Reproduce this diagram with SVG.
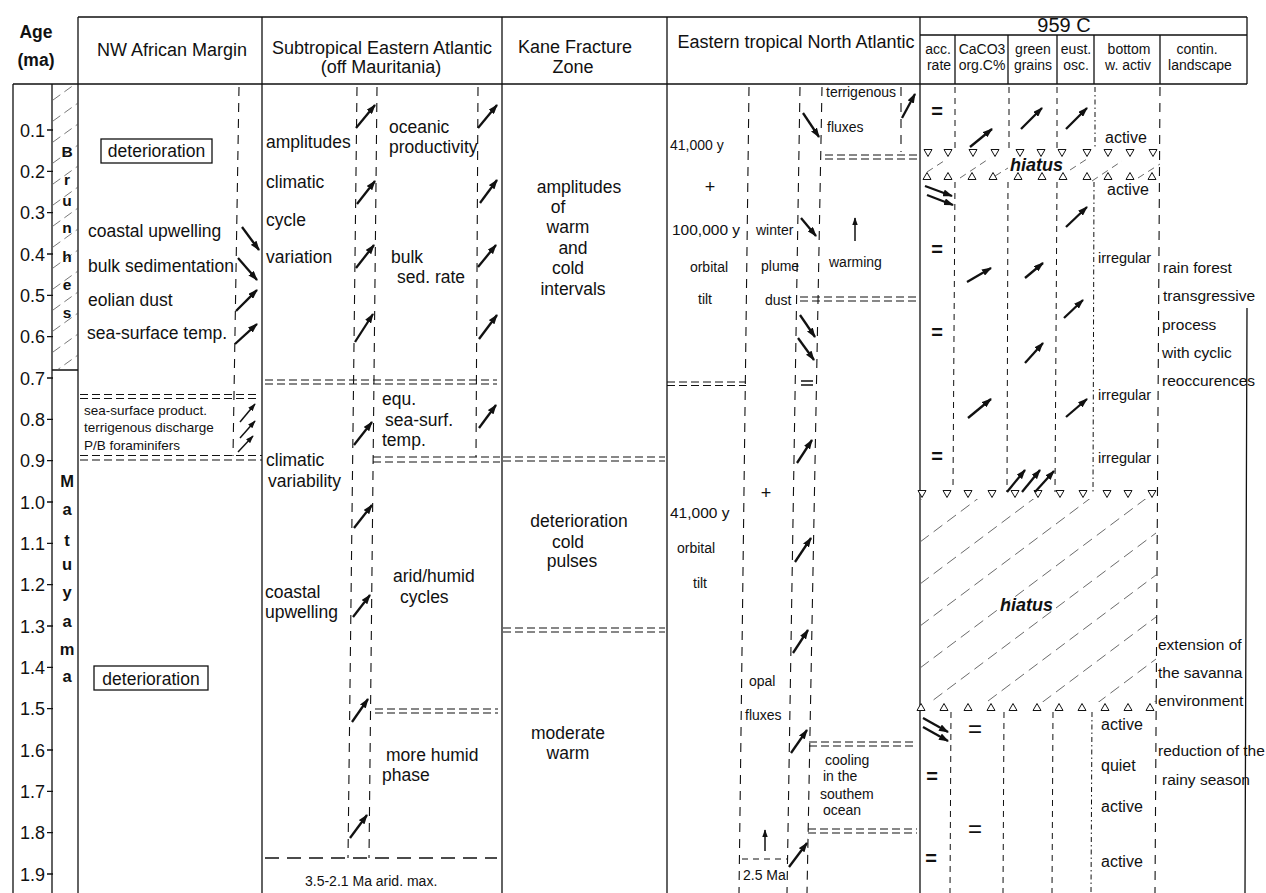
<svg xmlns="http://www.w3.org/2000/svg" width="1266" height="893" viewBox="0 0 1266 893">
<style>
text{font-family:"Liberation Sans",Arial,Helvetica,sans-serif;fill:#111}
.h{font-size:18px}
.b{font-size:17.5px}
.m{font-size:15.5px}
.s{font-size:14px}
.ti{font-size:18px;text-anchor:end}
.bl{font-size:15.5px;font-weight:bold;text-anchor:middle}
.blm{font-size:16.5px;font-weight:bold;text-anchor:middle}
.c{text-anchor:middle}
.ln{stroke:#111;stroke-width:1.3;fill:none}
.dv{stroke:#111;stroke-width:1.1;fill:none;stroke-dasharray:9 7}
.dh{stroke:#111;stroke-width:1.1;fill:none;stroke-dasharray:8 4}
.df{stroke:#111;stroke-width:1;fill:none;stroke-dasharray:6 5}
.dd{stroke:#111;stroke-width:1;fill:none;stroke-dasharray:5 3 1.5 3}
.hat{stroke:#444;stroke-width:0.8;fill:none;stroke-dasharray:11 6}
.ar{stroke:#111;stroke-width:2.3;fill:none;marker-end:url(#ah)}
.ars{stroke:#111;stroke-width:1.5;fill:none;marker-end:url(#ahs)}
.tri{stroke:#111;stroke-width:1;fill:#fff}
.eq{font-size:20px;font-weight:bold;text-anchor:middle}
.eqw{font-size:24px;text-anchor:middle}
.hi{font-size:18px;font-weight:bold;font-style:italic}
</style>
<defs>
<marker id="ah" viewBox="0 0 10 7" refX="9" refY="3.5" markerWidth="10" markerHeight="7" orient="auto" markerUnits="userSpaceOnUse"><path d="M0,0 L10,3.5 L0,7 z" fill="#111"/></marker>
<marker id="ahs" viewBox="0 0 10 7" refX="9" refY="3.5" markerWidth="8" markerHeight="5.6" orient="auto" markerUnits="userSpaceOnUse"><path d="M0,0 L10,3.5 L0,7 z" fill="#111"/></marker>
<path id="td" class="tri" d="M-4,-3.5 H4 L0,3.5 Z"/>
<path id="tu" class="tri" d="M-4,3.5 H4 L0,-3.5 Z"/>
<clipPath id="cBr"><rect x="53" y="85" width="25" height="285"/></clipPath>
<clipPath id="cH2"><rect x="921" y="499" width="235" height="203"/></clipPath>
</defs>
<rect width="1266" height="893" fill="#fff"/>

<g id="frame">
<path class="ln" d="M78,17H1247 M920,35H1247 M13,84H1247 M13,84V893 M52,84V893 M78,17V893 M262,17V893 M502,17V893 M667,17V893 M920,17V893 M1247,17V84 M1247,308L1245,893 M52,370H78"/>
<path class="ln" d="M955,35V84 M1008,35V84 M1057,35V84 M1094,35V84 M1160,35V84"/>
</g>

<g id="headers">
<text class="b c" x="36" y="38" font-weight="bold">Age</text>
<text class="b c" x="36" y="66" font-weight="bold">(ma)</text>
<text class="h c" x="172" y="56">NW African Margin</text>
<text class="h c" x="382" y="54">Subtropical Eastern Atlantic</text>
<text class="h c" x="381" y="73">(off Mauritania)</text>
<text class="h c" x="575" y="53">Kane Fracture</text>
<text class="h c" x="573" y="73">Zone</text>
<text class="h c" x="796" y="48">Eastern tropical North Atlantic</text>
<text class="c" x="1064" y="31.5" font-size="20">959 C</text>
<text class="s c" x="938" y="54">acc.</text>
<text class="s c" x="939" y="70">rate</text>
<text class="s c" x="982" y="54">CaCO3</text>
<text class="s c" x="982" y="70">org.C%</text>
<text class="s c" x="1033" y="54">green</text>
<text class="s c" x="1033" y="70">grains</text>
<text class="s c" x="1076" y="54">eust.</text>
<text class="s c" x="1076" y="70">osc.</text>
<text class="s c" x="1129" y="54">bottom</text>
<text class="s c" x="1128" y="70">w. activ</text>
<text class="s c" x="1197" y="54">contin.</text>
<text class="s c" x="1200" y="70">landscape</text>
</g>

<g id="age-axis">
<path class="ln" d="M47,130H53 M47,171.4H53 M47,212.7H53 M47,254H53 M47,295.4H53 M47,336.7H53 M47,378H53 M47,419.3H53 M47,460.7H53 M47,502H53 M47,543.3H53 M47,584.7H53 M47,626H53 M47,667.3H53 M47,708.7H53 M47,750H53 M47,791.3H53 M47,832.7H53 M47,874H53"/>
<text class="ti" x="45" y="136.5">0.1</text>
<text class="ti" x="45" y="177.9">0.2</text>
<text class="ti" x="45" y="219.2">0.3</text>
<text class="ti" x="45" y="260.5">0.4</text>
<text class="ti" x="45" y="301.9">0.5</text>
<text class="ti" x="45" y="343.2">0.6</text>
<text class="ti" x="45" y="384.5">0.7</text>
<text class="ti" x="45" y="425.8">0.8</text>
<text class="ti" x="45" y="467.2">0.9</text>
<text class="ti" x="45" y="508.5">1.0</text>
<text class="ti" x="45" y="549.8">1.1</text>
<text class="ti" x="45" y="591.2">1.2</text>
<text class="ti" x="45" y="632.5">1.3</text>
<text class="ti" x="45" y="673.8">1.4</text>
<text class="ti" x="45" y="715.2">1.5</text>
<text class="ti" x="45" y="756.5">1.6</text>
<text class="ti" x="45" y="797.8">1.7</text>
<text class="ti" x="45" y="839.2">1.8</text>
<text class="ti" x="45" y="880.5">1.9</text>
<g clip-path="url(#cBr)">
<path stroke="#555" stroke-width="0.8" fill="none" stroke-dasharray="9 5" d="M53,100L78,82 M53,121L78,103 M53,142L78,124 M53,163L78,145 M53,184L78,166 M53,205L78,187 M53,226L78,208 M53,247L78,229 M53,268L78,250 M53,289L78,271 M53,310L78,292 M53,331L78,313 M53,352L78,334 M53,373L78,355 M53,394L78,376"/>
</g>
<text class="bl" x="67" y="157">B</text>
<text class="bl" x="67" y="185">r</text>
<text class="bl" x="67" y="206">u</text>
<text class="bl" x="67" y="233">n</text>
<text class="bl" x="67" y="262">h</text>
<text class="bl" x="67" y="290">e</text>
<text class="bl" x="67" y="318">s</text>
<text class="blm" x="67" y="487">M</text>
<text class="blm" x="67" y="515">a</text>
<text class="blm" x="67" y="546">t</text>
<text class="blm" x="67" y="570">u</text>
<text class="blm" x="67" y="598">y</text>
<text class="blm" x="67" y="627">a</text>
<text class="blm" x="67" y="655">m</text>
<text class="blm" x="67" y="682">a</text>
</g>

<g id="col-nw">
<rect class="ln" x="101" y="139" width="111" height="24" stroke-width="1.1"/>
<text class="b c" x="156.5" y="157">deterioration</text>
<path class="dv" d="M239,87L233,456"/>
<text class="b" x="88" y="237">coastal upwelling</text>
<text class="b" x="88" y="272">bulk sedimentation</text>
<text class="b" x="88" y="306">eolian dust</text>
<text class="b" x="87" y="339">sea-surface temp.</text>
<path class="dh" d="M80,394.5H258 M80,398.5H258"/>
<text font-size="13.5" x="84" y="415">sea-surface product.</text>
<text font-size="13.5" x="84" y="432">terrigenous discharge</text>
<text font-size="13.5" x="84" y="450">P/B foraminifers</text>
<path class="dh" d="M80,455.5H262 M80,460H262"/>
<rect class="ln" x="94" y="666" width="114" height="24" stroke-width="1.1"/>
<text class="b c" x="151" y="685">deterioration</text>
</g>

<g id="col-subtrop">
<path class="dv" d="M357,87L348,858 M377,87L369,858 M478,87L476,457"/>
<text class="b" x="266" y="148">amplitudes</text>
<text class="b" x="266" y="188">climatic</text>
<text class="b" x="266" y="226">cycle</text>
<text class="b" x="266" y="263">variation</text>
<text class="b" x="389" y="133" font-size="16.5">oceanic</text>
<text class="b" x="389" y="153" font-size="16.5">productivity</text>
<text class="b" x="391" y="263">bulk</text>
<text class="b" x="397" y="283">sed. rate</text>
<path class="dh" d="M265,380H497 M265,384H497"/>
<text class="b" x="382" y="405">equ.</text>
<text class="b" x="385" y="426">sea-surf.</text>
<text class="b" x="382" y="446">temp.</text>
<text class="b" x="266" y="466">climatic</text>
<text class="b" x="268" y="487">variability</text>
<path class="dh" d="M373,457H500 M373,462H500"/>
<text class="b" x="265" y="598">coastal</text>
<text class="b" x="265" y="618">upwelling</text>
<text class="b" x="393" y="582">arid/humid</text>
<text class="b" x="400" y="603">cycles</text>
<path class="dh" d="M375,709H498 M375,713H498"/>
<text class="b" x="386" y="761">more humid</text>
<text class="b" x="382" y="781">phase</text>
<path class="ln" stroke-dasharray="14 8" stroke-width="1.1" d="M265,858H497"/>
<text class="s" x="305" y="886">3.5-2.1 Ma arid. max.</text>
</g>

<g id="col-kane">
<text class="b c" x="579" y="193">amplitudes</text>
<text class="b c" x="558" y="213">of</text>
<text class="b c" x="568" y="233">warm</text>
<text class="b c" x="573" y="254">and</text>
<text class="b c" x="568" y="274">cold</text>
<text class="b c" x="573" y="295">intervals</text>
<path class="dh" d="M503,457H665 M503,461H665"/>
<text class="b c" x="579" y="527">deterioration</text>
<text class="b c" x="568" y="548">cold</text>
<text class="b c" x="572" y="567">pulses</text>
<path class="dh" d="M503,628H665 M503,632H665"/>
<text class="b c" x="568" y="739">moderate</text>
<text class="b c" x="568" y="759">warm</text>
</g>

<g id="col-etna">
<path class="dv" d="M749,87L739,893 M800,87L787,893 M822,87L807,893 M901,87V152"/>
<text class="s" x="826" y="97">terrigenous</text>
<text class="s" x="827" y="132">fluxes</text>
<path class="dh" d="M825,155H918 M825,159H918"/>
<text class="s" x="670" y="150">41,000 y</text>
<text class="c" font-size="18" x="710" y="193">+</text>
<text class="m" x="672" y="235">100,000 y</text>
<text class="s c" x="709" y="272">orbital</text>
<text class="s c" x="705" y="304">tilt</text>
<text class="s" x="756" y="235">winter</text>
<text class="s" x="761" y="271">plume</text>
<text class="s" x="765" y="305">dust</text>
<text class="s" x="829" y="267">warming</text>
<path class="dh" d="M800,297H918 M800,301H918"/>
<path class="dh" d="M667,382H746 M667,385.5H746"/>
<path class="ln" stroke-width="1.1" d="M801,381H813 M801,385H813"/>
<text class="c" font-size="18" x="766" y="499">+</text>
<text class="m" x="670" y="518">41,000 y</text>
<text class="s" x="677" y="553">orbital</text>
<text class="s" x="693" y="588">tilt</text>
<text class="s" x="749" y="686">opal</text>
<text class="s" x="745" y="720">fluxes</text>
<path class="dh" d="M809,742H917 M809,746H917"/>
<text class="s" x="825" y="765">cooling</text>
<text class="s" x="823" y="781">in the</text>
<text class="s" x="820" y="799">southem</text>
<text class="s" x="823" y="815">ocean</text>
<path class="dh" d="M808,829H917 M808,833H917"/>
<path class="df" d="M742,859H787"/>
<text class="s" x="743" y="880">2.5 Ma</text>
</g>

<g id="col-959c">
<path class="df" d="M955,87V148 M955,182L953,488 M951,712L950,893"/>
<path class="df" d="M1009,87V148 M1008,182L1007,492 M1004,712L1003,893"/>
<path class="df" d="M1057,87V148 M1057,182L1055,492 M1053,712L1052,893"/>
<path class="dd" d="M1095,87V148 M1094,182L1093,492 M1092,712L1091,893"/>
<path class="dv" d="M1160,87L1155,893"/>
<g id="hiatus-1">
<path stroke="#444" stroke-width="0.8" fill="none" stroke-dasharray="7 5" d="M927,172L947,159 M960,178L990,158 M995,176L1008,168 M1070,170L1090,157 M1092,181L1122,161 M1138,178L1160,164"/>
<use href="#td" x="928" y="153"/><use href="#td" x="948" y="153"/><use href="#td" x="973" y="153"/><use href="#td" x="995" y="153"/><use href="#td" x="1020" y="153"/><use href="#td" x="1041" y="153"/><use href="#td" x="1062" y="153"/><use href="#td" x="1087" y="153"/><use href="#td" x="1108" y="153"/><use href="#td" x="1130" y="153"/><use href="#td" x="1153" y="153"/>
<use href="#tu" x="927" y="176"/><use href="#tu" x="948" y="176"/><use href="#tu" x="972" y="176"/><use href="#tu" x="993" y="176"/><use href="#tu" x="1018" y="176"/><use href="#tu" x="1042" y="176"/><use href="#tu" x="1063" y="176"/><use href="#tu" x="1087" y="176"/><use href="#tu" x="1108" y="176"/><use href="#tu" x="1130" y="176"/><use href="#tu" x="1152" y="176"/>
<text class="hi" x="1010" y="171">hiatus</text>
</g>
<g id="hiatus-2">
<g clip-path="url(#cH2)">
<path class="hat" d="M920,500L1160,320 M920,542L1160,362 M920,584L1160,404 M920,626L1160,446 M920,668L1160,488 M920,710L1160,530 M920,752L1160,572 M920,794L1160,614 M920,836L1160,656 M920,878L1160,698 M920,920L1160,740"/>
</g>
<use href="#td" x="922" y="494"/><use href="#td" x="947" y="494"/><use href="#td" x="968" y="494"/><use href="#td" x="992" y="494"/><use href="#td" x="1015" y="494"/><use href="#td" x="1038" y="494"/><use href="#td" x="1060" y="494"/><use href="#td" x="1083" y="494"/><use href="#td" x="1107" y="494"/><use href="#td" x="1128" y="494"/><use href="#td" x="1152" y="494"/>
<use href="#tu" x="921" y="707"/><use href="#tu" x="944" y="707"/><use href="#tu" x="968" y="707"/><use href="#tu" x="991" y="707"/><use href="#tu" x="1013" y="707"/><use href="#tu" x="1037" y="707"/><use href="#tu" x="1059" y="707"/><use href="#tu" x="1082" y="707"/><use href="#tu" x="1105" y="707"/><use href="#tu" x="1128" y="707"/><use href="#tu" x="1150" y="707"/>
<text class="hi" x="1000" y="611">hiatus</text>
</g>
<text class="eq" x="937" y="118">=</text>
<text class="eq" x="937" y="256">=</text>
<text class="eq" x="937" y="339">=</text>
<text class="eq" x="937" y="463">=</text>
<text class="eq" x="932" y="783">=</text>
<text class="eq" x="931" y="865">=</text>
<text class="eqw" x="975" y="737">=</text>
<text class="eqw" x="975" y="837">=</text>
<text x="1105" y="143" font-size="16">active</text>
<text x="1107" y="195" font-size="16">active</text>
<text x="1098" y="263" font-size="14.5">irregular</text>
<text x="1098" y="400" font-size="14.5">irregular</text>
<text x="1098" y="463" font-size="14.5">irregular</text>
<text x="1101" y="730" font-size="16">active</text>
<text x="1101" y="771" font-size="16">quiet</text>
<text x="1101" y="812" font-size="16">active</text>
<text x="1101" y="867" font-size="16">active</text>
<text class="m" x="1163" y="273">rain forest</text>
<text class="m" x="1163" y="301">transgressive</text>
<text class="m" x="1162" y="330">process</text>
<text class="m" x="1162" y="358">with cyclic</text>
<text class="m" x="1162" y="386">reoccurences</text>
<text class="m" x="1158" y="650">extension of</text>
<text class="m" x="1158" y="678">the savanna</text>
<text class="m" x="1158" y="706">environment</text>
<text class="m" x="1158" y="756">reduction of the</text>
<text class="m" x="1162" y="785">rainy season</text>
</g>

<g id="trend-arrows">
<path class="ar" d="M242,227L259,250"/>
<path class="ar" d="M238,258L257,280"/>
<path class="ar" d="M236,311L257,290"/>
<path class="ar" d="M235,344L257,324"/>
<path class="ars" d="M240,422L255,404"/>
<path class="ars" d="M240,438L255,421"/>
<path class="ars" d="M238,452L253,436"/>
<path class="ar" d="M356,128L375,105"/>
<path class="ar" d="M357,204L375,181"/>
<path class="ar" d="M356,268L374,245"/>
<path class="ar" d="M355,342L373,314"/>
<path class="ar" d="M478,128L497,105"/>
<path class="ar" d="M480,203L497,180"/>
<path class="ar" d="M478,267L496,245"/>
<path class="ar" d="M479,339L497,315"/>
<path class="ar" d="M354,445L372,422"/>
<path class="ar" d="M479,428L496,405"/>
<path class="ar" d="M354,528L372,505"/>
<path class="ar" d="M353,617L370,595"/>
<path class="ar" d="M352,722L368,699"/>
<path class="ar" d="M350,838L367,815"/>
<path class="ar" d="M803,113L819,137"/>
<path class="ar" d="M902,118L915,94"/>
<path class="ar" d="M801,218L816,236"/>
<path class="ars" d="M855,241L855,218"/>
<path class="ar" d="M800,315L815,337"/>
<path class="ar" d="M798,338L814,360"/>
<path class="ar" d="M797,463L812,440"/>
<path class="ar" d="M795,562L811,538"/>
<path class="ar" d="M793,653L808,630"/>
<path class="ar" d="M791,753L807,730"/>
<path class="ars" d="M765,851L765,830"/>
<path class="ar" d="M789,867L807,843"/>
<path class="ar" d="M970,147L992,129"/>
<path class="ar" d="M1021,129L1042,108"/>
<path class="ar" d="M1066,129L1087,108"/>
<path class="ar" d="M925,186L952,196"/>
<path class="ar" d="M927,195L953,205"/>
<path class="ar" d="M1066,227L1087,207"/>
<path class="ar" d="M967,282L991,268"/>
<path class="ar" d="M1025,278L1043,263"/>
<path class="ar" d="M1064,318L1083,300"/>
<path class="ar" d="M1025,363L1043,343"/>
<path class="ar" d="M968,418L991,399"/>
<path class="ar" d="M1066,417L1087,399"/>
<path class="ar" d="M1007,492L1025,470"/>
<path class="ar" d="M1022,492L1040,470"/>
<path class="ar" d="M1035,492L1054,471"/>
<path class="ar" d="M923,718L948,732"/>
<path class="ar" d="M923,727L948,741"/>
</g>
</svg>
